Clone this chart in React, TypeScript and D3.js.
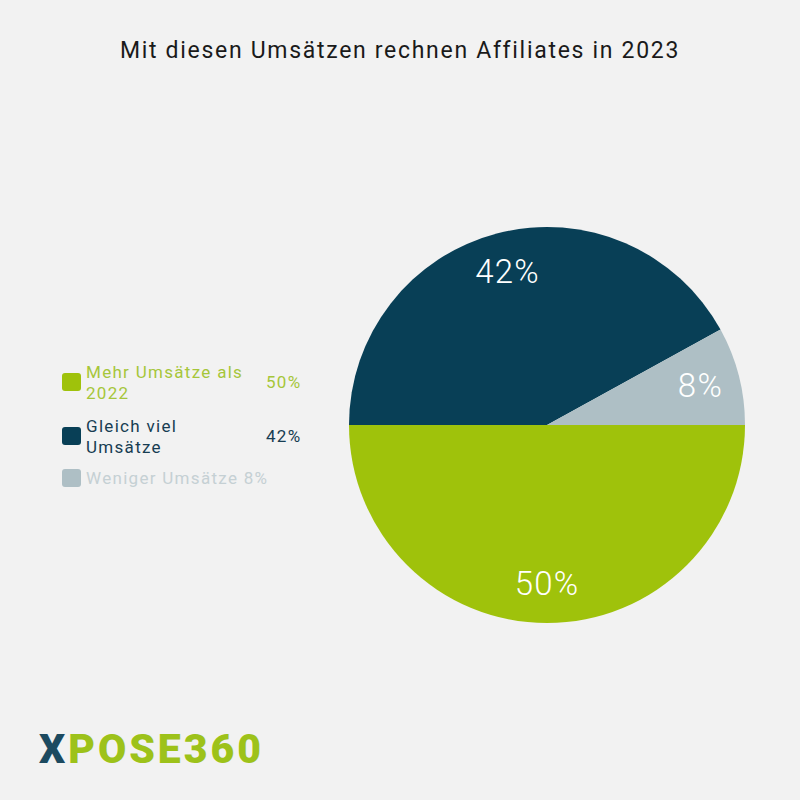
import * as d3 from 'd3'

const title = 'Mit diesen Umsätzen rechnen Affiliates in 2023'
const categories = ['Mehr Umsätze als 2022', 'Gleich viel Umsätze', 'Weniger Umsätze']
const values = [50, 42, 8]
const colors = ['#9fc20b', '#083f56', '#aebfc5']
const legendTextColors = ['#a6c63a', '#173d52', '#c5d0d4']
// legend wraps like the original
const legendLines = [['Mehr Umsätze als', '2022'], ['Gleich viel', 'Umsätze'], ['Weniger Umsätze 8%']]
const showPct = [true, true, false]

const W = 800
const H = 800
const FONT = 'Roboto, "Open Sans", sans-serif'

export default function App() {
  const cx = 547
  const cy = 425
  const r = 198

  const pie = d3.pie<number>()
    .sort(null)
    .value((d) => d)
    .startAngle(Math.PI / 2)
    .endAngle(Math.PI / 2 + 2 * Math.PI)
  const arcs = pie(values)
  const arc = d3.arc<d3.PieArcDatum<number>>().innerRadius(0).outerRadius(r)
  const labelArc = d3.arc<d3.PieArcDatum<number>>().innerRadius(r * 0.8).outerRadius(r * 0.8)

  const rowTop = [373, 427, 469]

  return (
    <svg
      width={W}
      height={H}
      style={{ display: 'block', position: 'absolute', left: 0, top: 0, background: '#f2f2f2' }}
    >
      <rect width={W} height={H} fill="#f2f2f2" />
      <text
        x={400}
        y={58}
        textAnchor="middle"
        fontFamily={FONT}
        fontSize={23}
        letterSpacing={1.7}
        fill="#1a1a1a"
      >
        {title}
      </text>

      <g transform={`translate(${cx},${cy})`}>
        {arcs.map((a, i) => (
          <path key={i} d={arc(a) || ''} fill={colors[i]} />
        ))}
        {arcs.map((a, i) => {
          const [lx, ly] = labelArc.centroid(a)
          return (
            <text
              key={i}
              x={lx}
              y={ly}
              textAnchor="middle"
              dominantBaseline="central"
              fontFamily={FONT}
              fontWeight={300}
              fontSize={33}
              letterSpacing={1.2}
              fill="#ffffff"
            >
              {values[i]}%
            </text>
          )
        })}
      </g>

      <g fontFamily={FONT} fontSize={17} letterSpacing={1.3}>
        {categories.map((c, i) => {
          const lines = legendLines[i]
          const y0 = lines.length > 1 ? rowTop[i] + 5 : rowTop[i] + 15
          return (
            <g key={c}>
              <rect x={62} y={rowTop[i]} width={19} height={18} rx={3} fill={colors[i]} />
              {lines.map((line, j) => (
                <text key={j} x={86} y={y0 + j * 21} fill={legendTextColors[i]}>
                  {line}
                </text>
              ))}
              {showPct[i] && (
                <text x={266} y={rowTop[i] + 15} fill={legendTextColors[i]}>
                  {values[i]}%
                </text>
              )}
            </g>
          )
        })}
      </g>

      <text x={39} y={763} fontFamily={FONT} fontWeight={900} fontSize={41} letterSpacing={3}>
        <tspan fill="#1c4a60">X</tspan>
        <tspan fill="#9dc21a">POSE360</tspan>
      </text>
    </svg>
  )
}
